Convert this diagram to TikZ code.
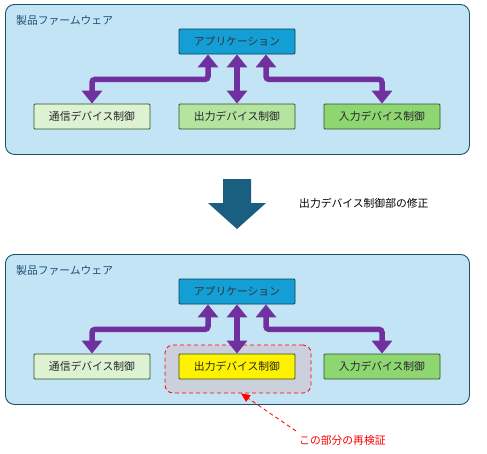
\documentclass[tikz,border=0pt]{standalone}
\usepackage{fontspec}
\setmainfont{Noto Sans CJK JP}
\usetikzlibrary{arrows.meta,calc}
\definecolor{panelfill}{HTML}{C3E4F4}
\definecolor{panelline}{HTML}{1F4E6A}
\definecolor{titlecol}{HTML}{1F4E79}
\definecolor{appfill}{HTML}{139FD6}
\definecolor{appline}{HTML}{0E3F55}
\definecolor{gline}{HTML}{2F5220}
\definecolor{gA}{HTML}{DDF2D3}
\definecolor{gB}{HTML}{B5E3A0}
\definecolor{gC}{HTML}{8ED671}
\definecolor{purp}{HTML}{7030A0}
\definecolor{bigarrow}{HTML}{1B5F80}
\definecolor{grayfill}{HTML}{CBD0DC}
\tikzset{
  panel/.style={draw=panelline, fill=panelfill, line width=0.9pt, rounded corners=9pt},
  ptitle/.style={anchor=west, text=titlecol, font=\fontsize{10.8pt}{13pt}\selectfont, inner sep=0pt},
  appbox/.style={draw=appline, fill=appfill, line width=0.8pt, minimum width=116pt, minimum height=25pt, inner sep=0pt, text=black!80, font=\fontsize{10.8pt}{13pt}\selectfont, rounded corners=1pt},
  gbox/.style={draw=gline, line width=0.8pt, minimum width=116pt, minimum height=25pt, inner sep=0pt, text=black!85, font=\fontsize{10.8pt}{13pt}\selectfont, rounded corners=1pt},
  parrow/.style={draw=purp, line width=5.5pt, rounded corners=3pt, {Triangle[width=20pt,length=13pt]}-{Triangle[width=20pt,length=13pt]}},
  label/.style={anchor=west, inner sep=0pt, font=\fontsize{10.8pt}{13pt}\selectfont}
}
\begin{document}
\begin{tikzpicture}[x=1pt,y=-1pt]
\useasboundingbox[fill=white] (0,0) rectangle (487,453);
% top panel
\node[panel, minimum width=464pt, minimum height=150pt, anchor=north west] (p1) at (5,4) {};
\node[ptitle] (t1) at (16,20) {製品ファームウェア};
\node[appbox] (app1) at (237,41.5) {アプリケーション};
\node[gbox, fill=gA] (tsu1) at (92,116.5) {通信デバイス制御};
\node[gbox, fill=gB] (out1) at (237,116.5) {出力デバイス制御};
\node[gbox, fill=gC] (in1) at (382,116.5) {入力デバイス制御};
\draw[parrow] ([xshift=-29pt]app1.south) -- ++(0,25) -| (tsu1.north);
\draw[parrow] (app1.south) -- (out1.north);
\draw[parrow] ([xshift=29pt]app1.south) -- ++(0,25) -| (in1.north);
% big arrow
\fill[bigarrow] (223,179) -- (251,179) -- (251,203) -- (266,203) -- (237,229) -- (208,203) -- (223,203) -- cycle;
\node[label] (mod) at (299,203) {出力デバイス制御部の修正};
% bottom panel
\node[panel, minimum width=464pt, minimum height=150pt, anchor=north west] (p2) at (5,254) {};
\node[ptitle] (t2) at (16,270) {製品ファームウェア};
\node[draw=red, dash pattern=on 4pt off 3pt, fill=grayfill, line width=0.8pt, rounded corners=8pt, minimum width=146pt, minimum height=48pt, inner sep=0pt] (hl) at (238,369) {};
\node[appbox] (app2) at (237,291.5) {アプリケーション};
\node[gbox, fill=gA] (tsu2) at (92,366.5) {通信デバイス制御};
\node[gbox, fill=yellow] (out2) at (237,366.5) {出力デバイス制御};
\node[gbox, fill=gC] (in2) at (382,366.5) {入力デバイス制御};
\draw[parrow] ([xshift=-29pt]app2.south) -- ++(0,25) -| (tsu2.north);
\draw[parrow] (app2.south) -- (out2.north);
\draw[parrow] ([xshift=29pt]app2.south) -- ++(0,25) -| (in2.north);
% red label
\node[label, text=red] (chk) at (299,440) {この部分の再検証};
\coordinate (tail) at (296,431);
\draw[red, dash pattern=on 4pt off 3pt, line width=0.8pt, -{Triangle[width=8pt,length=9pt]}] (tail) -- ([xshift=3pt]hl.south);
\end{tikzpicture}
\end{document}
